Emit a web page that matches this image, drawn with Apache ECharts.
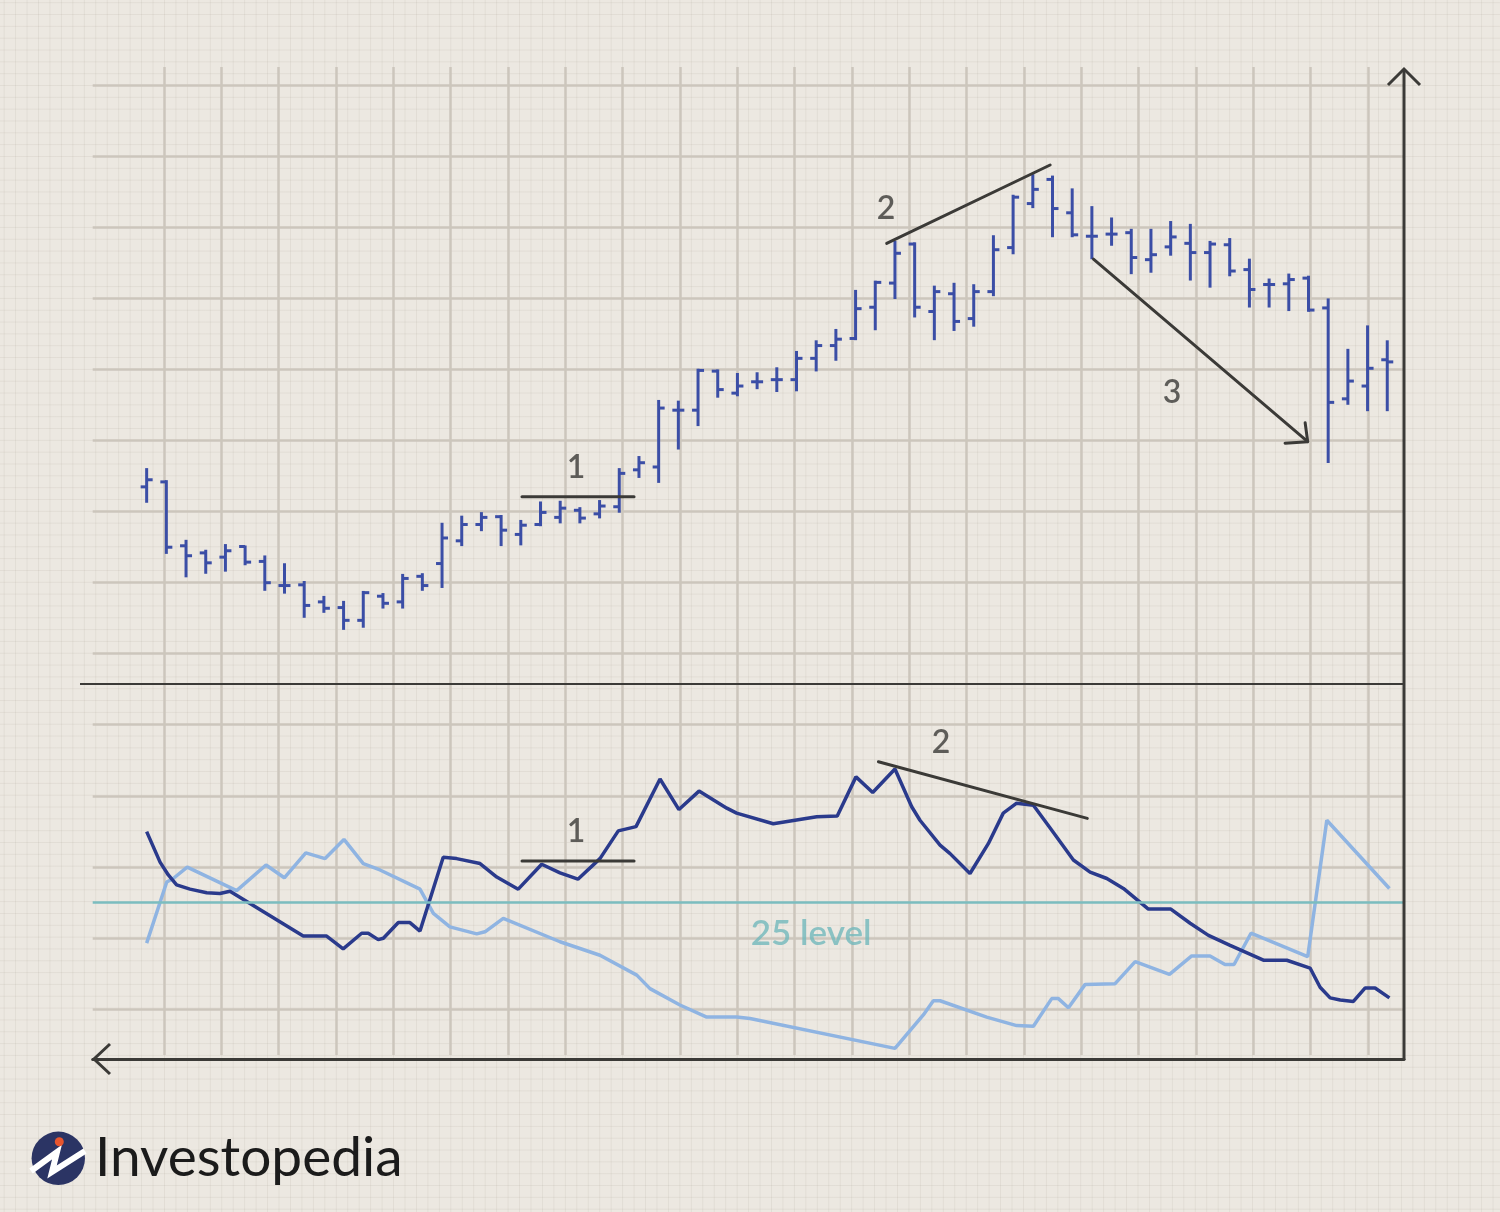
<!DOCTYPE html>
<html>
<head>
<meta charset="utf-8">
<title>ADX chart</title>
<script src="https://cdn.jsdelivr.net/npm/echarts@6/dist/echarts.min.js"></script>
<style>
  html, body { margin: 0; padding: 0; }
  #chart {
    width: 1500px;
    height: 1212px;
    background-color: #ece8e1;
    background-image:
      linear-gradient(to right, rgba(150, 140, 125, 0.12) 1px, transparent 1px),
      linear-gradient(to bottom, rgba(150, 140, 125, 0.12) 1px, transparent 1px);
    background-size: 11.466px 11.833px;
    background-position: 164px 85px;
  }
</style>
</head>
<body>
<div id="chart"></div>
<script>
// price bars (bar index 0..63)
const barOpen = [33.4, 34.1, 25.1, 24.1, 23.5, 25.0, 22.9, 19.5, 19.6, 17.2,
  16.4, 14.6, 18.0, 17.2, 20.8, 22.6, 25.8, 28.1, 29.2, 26.7,
  28.1, 29.1, 30.1, 29.6, 30.6, 35.8, 36.2, 44.2, 44.2, 49.7,
  46.6, 48.2, 48.5, 48.5, 51.5, 53.3, 54.3, 58.7, 62.1, 67.6,
  58.1, 60.6, 57.1, 60.9, 67.1, 73.3, 76.7, 72.0, 68.7, 69.0,
  69.2, 65.4, 67.2, 67.7, 66.4, 67.5, 64.0, 61.9, 62.0, 62.8,
  58.6, 45.8, 47.6, 51.3]
const barHigh = [35.9, 34.2, 25.8, 24.4, 25.2, 25.0, 23.6, 22.5, 20.0, 17.9,
  17.2, 18.6, 18.3, 21.0, 21.1, 28.2, 29.2, 29.7, 29.3, 28.6,
  31.2, 31.3, 30.4, 31.4, 35.9, 37.6, 45.5, 45.4, 49.9, 49.8,
  49.3, 49.4, 50.1, 52.4, 53.9, 55.5, 61.0, 62.3, 67.9, 67.7,
  61.6, 62.0, 61.8, 68.7, 74.4, 77.3, 77.1, 75.3, 72.8, 71.2,
  69.6, 69.6, 70.7, 70.3, 67.9, 68.3, 65.4, 62.6, 63.3, 63.0,
  59.8, 52.7, 56.0, 53.9]
const barLow = [31.3, 24.1, 20.8, 21.3, 21.6, 22.5, 18.9, 18.5, 15.1, 15.8,
  13.4, 13.7, 16.4, 16.4, 18.9, 19.3, 25.2, 27.3, 25.2, 25.3,
  28.0, 28.4, 28.4, 29.1, 29.9, 34.8, 34.1, 38.8, 42.1, 46.1,
  46.3, 47.3, 46.9, 47.0, 49.8, 51.3, 54.2, 55.6, 60.0, 57.4,
  54.2, 55.5, 56.1, 60.4, 66.3, 72.8, 68.7, 68.7, 65.6, 67.5,
  63.5, 63.7, 66.1, 62.6, 61.6, 63.2, 58.8, 58.8, 58.3, 58.2,
  36.9, 45.1, 44.2, 44.2]
const barClose = [34.4, 24.9, 23.7, 22.7, 24.4, 22.8, 19.9, 19.5, 16.7, 16.3,
  14.6, 18.5, 17.0, 20.5, 19.5, 26.2, 28.1, 29.1, 27.3, 28.0,
  29.8, 30.4, 29.0, 30.7, 35.3, 36.8, 44.5, 44.2, 49.8, 47.1,
  47.6, 48.2, 48.5, 51.5, 53.3, 54.2, 58.5, 62.2, 66.3, 58.7,
  60.9, 56.7, 60.9, 66.8, 74.2, 75.3, 72.6, 68.9, 68.7, 69.0,
  65.7, 66.1, 68.6, 66.4, 67.6, 63.8, 61.2, 61.9, 62.6, 58.3,
  45.3, 48.3, 50.1, 51.0]

// indicator panel: dark line (ADX) and light line
const darkX = [0, 0.68, 1.10, 1.52, 2.20, 3.05, 3.72, 4.23, 7.95, 9.14,
  9.98, 10.92, 11.25, 11.76, 12.02, 12.78, 13.37, 13.88, 15.06, 15.74,
  16.93, 17.78, 18.87, 20.06, 20.99, 21.90, 23.02, 23.95, 24.85, 26.07,
  27.03, 28.05, 29.46, 29.96, 31.82, 34.03, 35.07, 36.02, 36.87, 38.00,
  38.85, 39.27, 40.29, 40.80, 41.81, 42.74, 43.50, 44.18, 45.03, 45.88,
  47.06, 47.91, 48.76, 49.60, 50.87, 52.01, 52.99, 53.92, 55.02, 56.71,
  57.90, 59.08, 59.59, 60.10, 60.61, 61.28, 61.88, 62.38, 63.11]
const darkY = [35.0, 30.7, 28.9, 27.5, 26.9, 26.4, 26.3, 26.6, 20.3, 20.3,
  18.5, 20.7, 20.7, 19.8, 20.0, 22.2, 22.2, 21.0, 31.4, 31.2,
  30.5, 28.6, 26.9, 30.4, 29.2, 28.3, 31.2, 35.1, 35.7, 42.4,
  38.1, 40.7, 38.3, 37.6, 36.1, 37.1, 37.2, 42.7, 40.5, 43.8,
  38.5, 36.6, 33.1, 31.9, 29.1, 33.3, 37.6, 39.0, 38.7, 35.5,
  31.0, 29.3, 28.4, 27.0, 24.1, 24.1, 22.1, 20.4, 19.0, 16.9,
  16.9, 15.8, 13.1, 11.6, 11.3, 11.1, 13.0, 13.0, 11.6]
const lightX = [0, 1.02, 1.35, 2.06, 4.57, 6.06, 6.99, 8.08, 9.06, 10.02,
  11.0, 11.85, 13.88, 14.56, 15.40, 16.76, 17.18, 18.11, 20.99, 23.02,
  24.89, 25.56, 27.08, 28.44, 29.96, 30.64, 38.0, 39.44, 39.95, 40.29,
  42.66, 44.18, 45.03, 45.96, 46.30, 46.81, 47.66, 49.18, 50.20, 51.94,
  53.07, 54.0, 54.76, 55.22, 56.08, 58.96, 59.93, 63.11]
const lightY = [19.3, 27.9, 28.4, 30.0, 26.7, 30.3, 28.5, 32.0, 31.2, 33.9,
  30.5, 29.6, 26.9, 23.5, 21.6, 20.6, 20.9, 22.8, 19.5, 17.6,
  14.8, 12.9, 10.6, 8.9, 8.9, 8.7, 4.5, 9.2, 11.2, 11.2,
  8.9, 7.7, 7.6, 11.5, 11.5, 10.2, 13.5, 13.6, 16.7, 14.9,
  17.5, 17.5, 16.3, 16.3, 20.7, 17.4, 36.6, 27.0]
const adxLevel = 25

// hand-drawn annotations, in data units
const topNotes = [
  [[19.06, 32.0], [24.75, 32.0]],
  [[37.58, 67.7], [45.88, 78.73]],
  [[48.08, 65.49], [58.96, 39.76]],
  [[58.83, 42.44], [58.96, 39.76], [57.81, 39.54]],
]
const bottomNotes = [
  [[19.06, 30.85], [24.75, 30.85]],
  [[37.16, 44.83], [47.77, 36.86]],
]
const topLabels = [[21.8, 36.06, '1'], [37.55, 72.54, '2'], [52.07, 46.62, '3']]
const bottomLabels = [[21.8, 34.93, '1'], [40.34, 47.46, '2']]
const levelLabel = [[33.74, 20.56, '25 level']]

const BAR_BLUE = '#3b4ea6'
const INK = '#3b3a37'
const GRID_MAJOR = '#ccc6bc'

const zip = (xs, ys) => xs.map((x, i) => [x, ys[i]])
const ohlc = barOpen.map((o, i) => [i, o, barHigh[i], barLow[i], barClose[i]])

const chart = echarts.init(document.getElementById('chart'))

const hiddenAxis = (gridIndex, min, max) => ({
  type: 'value', gridIndex, min, max, show: false,
})

const renderBar = (params, api) => {
  const x = api.value(0)
  const o = api.coord([x, api.value(1)])
  const h = api.coord([x, api.value(2)])
  const l = api.coord([x, api.value(3)])
  const c = api.coord([x, api.value(4)])
  const style = { stroke: BAR_BLUE, lineWidth: 3 }
  const tick = 6
  return {
    type: 'group',
    children: [
      { type: 'line', shape: { x1: h[0], y1: h[1] - 1, x2: l[0], y2: l[1] + 1 }, style },
      { type: 'line', shape: { x1: o[0] - tick, y1: o[1], x2: o[0], y2: o[1] }, style },
      { type: 'line', shape: { x1: c[0], y1: c[1], x2: c[0] + tick, y2: c[1] }, style },
    ],
  }
}

const noteSeries = (notes, axis) => notes.map((pts) => ({
  type: 'line',
  xAxisIndex: axis,
  yAxisIndex: axis,
  data: pts,
  symbol: 'none',
  silent: true,
  z: 4,
  lineStyle: { color: INK, width: 3, cap: 'round' },
}))

const labelSeries = (items, axis, color, size, weight) => ({
  type: 'scatter',
  xAxisIndex: axis,
  yAxisIndex: axis,
  data: items,
  symbolSize: 1,
  silent: true,
  z: 5,
  itemStyle: { color: 'transparent' },
  label: {
    show: true,
    position: 'inside',
    formatter: (p) => p.value[2],
    color,
    fontSize: size,
    fontFamily: 'Lato, "Open Sans", sans-serif',
    fontWeight: weight,
  },
})

chart.setOption({
  animation: false,
  backgroundColor: 'transparent',
  grid: [
    { left: 164, right: 132, top: 67, bottom: 157 },
    { left: 92.7, right: 96, top: 85, bottom: 203 },
    { left: 92.7, right: 96, top: 85, height: 568 },
    { left: 92.7, right: 96, top: 725, height: 334 },
  ],
  xAxis: [
    {
      type: 'value', gridIndex: 0, min: 0, max: 21, interval: 1,
      axisLine: { show: false }, axisTick: { show: false }, axisLabel: { show: false },
      splitLine: { show: true, lineStyle: { color: GRID_MAJOR, width: 2.5 } },
    },
    hiddenAxis(1, 0, 1),
    hiddenAxis(2, -2.74, 63.85),
    {
      type: 'value', gridIndex: 3, min: -2.74, max: 63.85,
      axisLine: { show: true, onZero: false, lineStyle: { color: INK, width: 3 } },
      axisTick: { show: false }, axisLabel: { show: false }, splitLine: { show: false },
    },
  ],
  yAxis: [
    hiddenAxis(0, 0, 1),
    {
      type: 'value', gridIndex: 1, min: 0, max: 13, interval: 1,
      axisLine: { show: false }, axisTick: { show: false }, axisLabel: { show: false },
      splitLine: { show: true, lineStyle: { color: GRID_MAJOR, width: 2.5 } },
    },
    hiddenAxis(2, 10, 90),
    hiddenAxis(3, 3, 50),
  ],
  series: [
    {
      type: 'custom',
      name: 'Price',
      xAxisIndex: 2,
      yAxisIndex: 2,
      data: ohlc,
      encode: { x: 0, y: [1, 2, 3, 4] },
      renderItem: renderBar,
      silent: true,
      z: 3,
    },
    {
      type: 'line',
      name: 'Light',
      xAxisIndex: 3,
      yAxisIndex: 3,
      data: zip(lightX, lightY),
      symbol: 'none',
      z: 3,
      lineStyle: { color: '#8fb4e2', width: 3.5 },
      markLine: {
        silent: true,
        symbol: 'none',
        label: { show: false },
        lineStyle: { color: '#7bbdbf', width: 2.5, type: 'solid' },
        data: [{ yAxis: adxLevel }],
      },
    },
    {
      type: 'line',
      name: 'ADX',
      xAxisIndex: 3,
      yAxisIndex: 3,
      data: zip(darkX, darkY),
      symbol: 'none',
      z: 3,
      lineStyle: { color: '#2a3a8c', width: 3.5 },
    },
    ...noteSeries(topNotes, 2),
    ...noteSeries(bottomNotes, 3),
    labelSeries(topLabels, 2, INK, 32, 600),
    labelSeries(bottomLabels, 3, INK, 32, 600),
    labelSeries(levelLabel, 3, '#72b8bb', 35, 600),
  ],
  graphic: [
    // frame: right axis with arrow, divider, left arrow head
    { type: 'line', shape: { x1: 1404, y1: 70, x2: 1404, y2: 1060 }, style: { stroke: INK, lineWidth: 3 }, z: 10 },
    { type: 'polyline', shape: { points: [[1388, 85], [1404, 69], [1420, 85]] }, style: { stroke: INK, lineWidth: 3, fill: null }, z: 10 },
    { type: 'polyline', shape: { points: [[110, 1044], [94, 1059], [110, 1074]] }, style: { stroke: INK, lineWidth: 3, fill: null }, z: 10 },
    { type: 'line', shape: { x1: 80, y1: 684, x2: 1404, y2: 684 }, style: { stroke: INK, lineWidth: 2 }, z: 10 },
    // logo
    { type: 'circle', shape: { cx: 58.3, cy: 1158.3, r: 26.7 }, style: { fill: '#2b3464' }, z: 10 },
    {
      type: 'polyline',
      shape: { points: [[31, 1171], [57, 1152], [52, 1172], [85, 1151]] },
      style: { stroke: '#ffffff', lineWidth: 6, fill: null, lineJoin: 'miter' },
      z: 11,
    },
    { type: 'circle', shape: { cx: 59.3, cy: 1141.7, r: 4.5 }, style: { fill: '#e8552e' }, z: 12 },
    {
      type: 'text',
      z: 10,
      style: {
        text: 'Investopedia',
        x: 95,
        y: 1158,
        fill: '#1b1b1b',
        font: '400 55px Lato, "Open Sans", sans-serif',
        verticalAlign: 'middle',
        align: 'left',
      },
    },
  ],
})
</script>
</body>
</html>
